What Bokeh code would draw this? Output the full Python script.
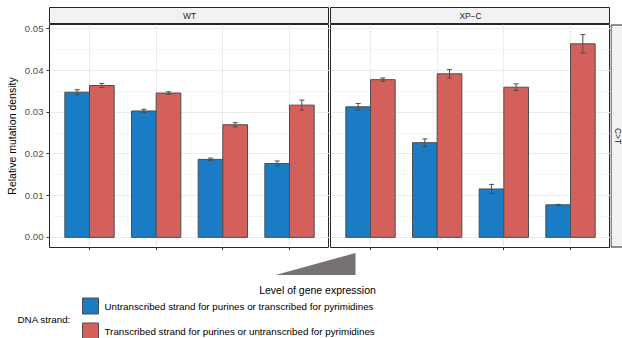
from bokeh.plotting import figure
from bokeh.layouts import row, column
from bokeh.models import (Range1d, FixedTicker, PrintfTickFormatter, Whisker,
                          ColumnDataSource, TeeHead, CustomLabelingPolicy)
from bokeh.core.properties import value
from bokeh.embed import file_html
from bokeh.resources import INLINE
import math

# ---- data: relative mutation density (C>T) per expression-level bin ----
levels = [1, 2, 3, 4]
panels = ["WT", "XP\u2212C"]
strand_labels = [
    "Untranscribed strand for purines or transcribed for pyrimidines",
    "Transcribed strand for purines or untranscribed for pyrimidines",
]

wt_untranscribed = [0.0348, 0.0303, 0.0187, 0.0177]
wt_untranscribed_err = [0.0006, 0.0004, 0.0003, 0.0006]
wt_transcribed = [0.0364, 0.0346, 0.0270, 0.0317]
wt_transcribed_err = [0.0005, 0.0003, 0.0005, 0.0012]

xpc_untranscribed = [0.0313, 0.0227, 0.0116, 0.0078]
xpc_untranscribed_err = [0.0008, 0.0009, 0.0011, 0.0001]
xpc_transcribed = [0.0378, 0.0392, 0.0360, 0.0464]
xpc_transcribed_err = [0.0004, 0.0010, 0.0008, 0.0022]

y_ticks = [0.0, 0.01, 0.02, 0.03, 0.04, 0.05]
y_minor_ticks = [0.005, 0.015, 0.025, 0.035, 0.045]

# ---- styling ----
FONT = "Liberation Sans"
BLUE = "#1B7CC6"
RED = "#D3605A"
EDGE = "#4D4D4D"
GRID = "#EBEBEB"
STRIP_FILL = "#F2F2F2"
BORDER = "#262626"
BAR_W = 0.37
PANEL_W, PANEL_H = 280, 223
LEFT = 49

# shared y scale: from 0 to the highest error-bar end, with 5% expansion
y_hi = max(v + e for vals, errs in [
    (wt_untranscribed, wt_untranscribed_err), (wt_transcribed, wt_transcribed_err),
    (xpc_untranscribed, xpc_untranscribed_err), (xpc_transcribed, xpc_transcribed_err)]
    for v, e in zip(vals, errs))
pad = 0.05 * y_hi
y_range = Range1d(-pad, y_hi + pad)

# tick marks on the x axis carry no labels
no_labels = CustomLabelingPolicy(code="return new Set()")


def strip(label, left_border):
    s = figure(frame_width=PANEL_W, frame_height=17, x_range=Range1d(0, 1),
               y_range=Range1d(0, 1), x_axis_location=None, y_axis_location=None,
               min_border_left=left_border, min_border_right=0, min_border_top=7,
               min_border_bottom=0, background_fill_color=STRIP_FILL,
               outline_line_color=BORDER, outline_line_width=1,
               output_backend="svg", toolbar_location=None)
    s.grid.visible = False
    s.text(x=[0.5], y=[0.5], text=[label], text_align="center",
           text_baseline="middle", text_font=value(FONT),
           text_font_size="8.4px", text_color="#1A1A1A")
    return s


def panel(untx, untx_err, tx, tx_err, show_y):
    p = figure(frame_width=PANEL_W, frame_height=PANEL_H,
               x_range=Range1d(0.4, 4.6), y_range=y_range,
               min_border_left=LEFT if show_y else 1, min_border_right=0,
               min_border_top=0, min_border_bottom=3,
               background_fill_color="white", outline_line_color=BORDER,
               outline_line_width=1, output_backend="svg", toolbar_location=None)

    # grid
    p.xgrid.ticker = FixedTicker(ticks=levels, minor_ticks=[])
    p.xgrid.grid_line_color = GRID
    p.ygrid.ticker = FixedTicker(ticks=y_ticks, minor_ticks=y_minor_ticks)
    p.ygrid.grid_line_color = GRID
    p.ygrid.minor_grid_line_color = GRID
    p.ygrid.minor_grid_line_width = 0.5

    # x axis: tick marks only
    xa = p.xaxis[0]
    xa.ticker = FixedTicker(ticks=levels, minor_ticks=[])
    xa.major_label_policy = no_labels
    xa.major_label_text_font_size = "0px"
    xa.major_label_standoff = 0
    xa.major_tick_out = 3
    xa.major_tick_in = 0
    xa.major_tick_line_color = "#333333"
    xa.minor_tick_line_color = None
    xa.axis_line_color = None

    ya = p.yaxis[0]
    ya.ticker = FixedTicker(ticks=y_ticks, minor_ticks=y_minor_ticks)
    if show_y:
        ya.formatter = PrintfTickFormatter(format="%.2f")
        ya.major_label_text_font = FONT
        ya.major_label_text_font_size = "9.6px"
        ya.major_label_text_color = "#4D4D4D"
        ya.major_label_standoff = 2
        ya.major_tick_out = 3
        ya.major_tick_in = 0
        ya.major_tick_line_color = "#333333"
        ya.minor_tick_line_color = None
        ya.axis_line_color = None
        ya.axis_label = "Relative mutation density"
        ya.axis_label_text_font = FONT
        ya.axis_label_text_font_size = "10.5px"
        ya.axis_label_text_font_style = "normal"
        ya.axis_label_text_color = "black"
        ya.axis_label_standoff = 4
    else:
        ya.visible = False

    for vals, errs, shift, color in [(untx, untx_err, -BAR_W / 2, BLUE),
                                     (tx, tx_err, BAR_W / 2, RED)]:
        src = ColumnDataSource(dict(
            x=[l + shift for l in levels], top=vals,
            upper=[v + e for v, e in zip(vals, errs)],
            lower=[v - e for v, e in zip(vals, errs)]))
        p.vbar(x="x", top="top", bottom=0, width=BAR_W, source=src,
               fill_color=color, line_color=EDGE, line_width=1)
        p.add_layout(Whisker(base="x", upper="upper", lower="lower", source=src,
                             level="overlay", line_color=EDGE, line_width=1,
                             upper_head=TeeHead(size=5, line_color=EDGE, line_width=1),
                             lower_head=TeeHead(size=5, line_color=EDGE, line_width=1)))
    return p


wt_strip = strip(panels[0], LEFT)
wt_panel = panel(wt_untranscribed, wt_untranscribed_err,
                 wt_transcribed, wt_transcribed_err, True)
xpc_strip = strip(panels[1], 1)
xpc_panel = panel(xpc_untranscribed, xpc_untranscribed_err,
                  xpc_transcribed, xpc_transcribed_err, False)

# mutation-type strip on the right side of the facet grid; it runs past the
# page edge, so its box is drawn open on the right
SIDE_W = 12
side = figure(frame_width=SIDE_W, frame_height=PANEL_H + 2,
              x_range=Range1d(0, SIDE_W), y_range=Range1d(0, PANEL_H + 2),
              x_axis_location=None, y_axis_location=None,
              min_border_left=0, min_border_right=0, min_border_top=23,
              min_border_bottom=2, background_fill_color=None,
              outline_line_color=None, output_backend="svg", toolbar_location=None)
side.grid.visible = False
side.quad(left=[0.5], right=[SIDE_W + 10], bottom=[1.5], top=[PANEL_H + 0.5],
          fill_color=STRIP_FILL, line_color=BORDER, line_width=1)
side.text(x=[7], y=[(PANEL_H + 2) / 2], text=["C>T"], angle=-math.pi / 2,
          text_align="center", text_baseline="middle", text_font=value(FONT),
          text_font_size="8.4px", text_color="#1A1A1A")

# expression-level wedge and strand legend underneath
W, H = 622, 88
below = figure(width=W, height=H, x_range=Range1d(0, W), y_range=Range1d(250 + H, 250),
               x_axis_location=None, y_axis_location=None, min_border_left=0,
               min_border_right=0, min_border_top=0, min_border_bottom=0,
               outline_line_color=None, output_backend="svg", toolbar_location=None)
below.grid.visible = False
below.patch(x=[275, 355, 355], y=[274.5, 252.5, 274.5], fill_color="#767272",
            line_color=None)
below.text(x=[317], y=[289.5], text=["Level of gene expression"], text_align="center",
           text_baseline="middle", text_font=value(FONT), text_font_size="10.5px",
           text_color="black")
legend_txt = dict(text_font=value(FONT), text_font_size="9.8px", text_color="black",
                  text_baseline="middle", text_align="left")
below.text(x=[17], y=[319], text=["DNA strand:"], **legend_txt)
below.quad(left=[82, 82], right=[98, 98], top=[297.5, 322.5], bottom=[313.5, 338.5],
           fill_color=[BLUE, RED], line_color=EDGE, line_width=1)
below.text(x=[104, 104], y=[305.5, 331], text=strand_labels, **legend_txt)

layout = column(
    row(column(wt_strip, wt_panel), column(xpc_strip, xpc_panel), side),
    below,
)

open("out.html", "w").write(file_html(layout, INLINE))
